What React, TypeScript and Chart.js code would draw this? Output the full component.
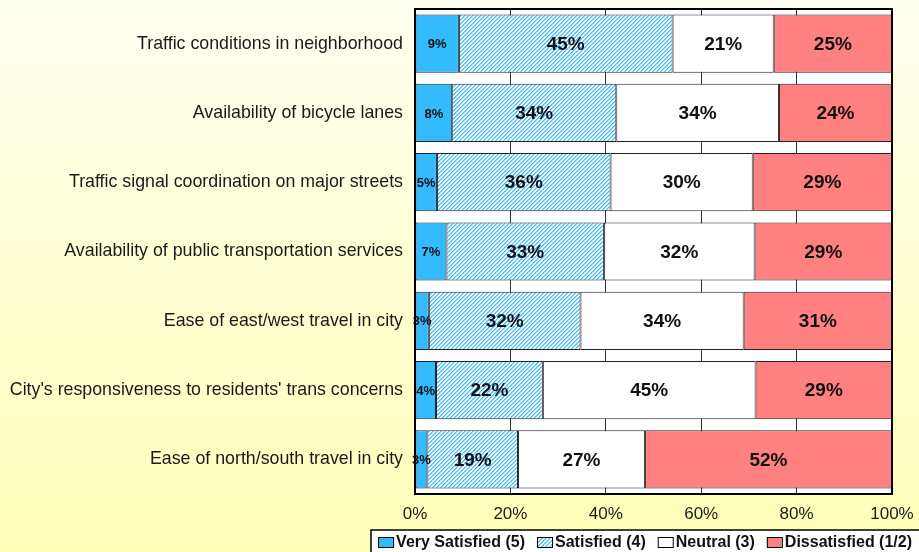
import React, { useEffect, useRef } from 'react';
import { Chart, registerables } from 'chart.js';

Chart.register(...registerables);

const categories = [
  'Traffic conditions in neighborhood',
  'Availability of bicycle lanes',
  'Traffic signal coordination on major streets',
  'Availability of public transportation services',
  'Ease of east/west travel in city',
  "City's responsiveness to residents' trans concerns",
  'Ease of north/south travel in city',
];

const seriesNames = ['Very Satisfied (5)', 'Satisfied (4)', 'Neutral (3)', 'Dissatisfied (1/2)'];

const verySatisfied = [9.2, 7.8, 4.6, 6.6, 2.9, 4.4, 2.6];
const satisfied = [44.8, 34.4, 36.4, 33.0, 31.8, 22.4, 19.0];
const neutral = [21.2, 34.1, 29.8, 31.6, 34.2, 44.6, 26.6];
const dissatisfied = [24.8, 23.7, 29.2, 28.8, 31.1, 28.6, 51.8];

const xTickValues = [0, 20, 40, 60, 80, 100];

const FONT = "'Liberation Sans', Arial, Helvetica, sans-serif";

function makeHatch(): CanvasPattern | string {
  const c = document.createElement('canvas');
  c.width = 4;
  c.height = 4;
  const g = c.getContext('2d');
  if (!g) return '#99DDFF';
  g.fillStyle = '#FFFFFF';
  g.fillRect(0, 0, 4, 4);
  for (let i = 0; i < 4; i++) {
    g.fillStyle = '#40BFFF';
    g.fillRect(i, 3 - i, 1, 1);
    g.fillStyle = '#7FD3FF';
    g.fillRect((i + 1) % 4, 3 - i, 1, 1);
  }
  const p = g.createPattern(c, 'repeat');
  return p || '#99DDFF';
}

export default function App() {
  const ref = useRef<HTMLCanvasElement | null>(null);

  useEffect(() => {
    const canvas = ref.current;
    if (!canvas) return;
    const hatch = makeHatch();
    const fills = ['#33BBFF', hatch, '#FFFFFF', '#FF8080'];
    const values = [verySatisfied, satisfied, neutral, dissatisfied];

    const bgPlugin = {
      id: 'bgPlugin',
      beforeDraw(chart: any) {
        const { ctx, width, height, chartArea } = chart;
        ctx.save();
        const grad = ctx.createLinearGradient(0, 0, 0, height);
        grad.addColorStop(0, '#FFFFF0');
        grad.addColorStop(1, '#FFFFB8');
        ctx.fillStyle = grad;
        ctx.fillRect(0, 0, width, height);
        ctx.fillStyle = '#FFFFFF';
        ctx.fillRect(chartArea.left, chartArea.top, chartArea.right - chartArea.left, chartArea.bottom - chartArea.top);
        ctx.restore();
      },
    };

    const overlayPlugin = {
      id: 'overlayPlugin',
      afterDraw(chart: any) {
        const { ctx, chartArea, width } = chart;
        ctx.save();
        // plot border
        ctx.strokeStyle = '#000000';
        ctx.lineWidth = 2;
        ctx.strokeRect(chartArea.left, chartArea.top, chartArea.right - chartArea.left, chartArea.bottom - chartArea.top);

        // data labels
        ctx.fillStyle = '#111111';
        ctx.textAlign = 'center';
        ctx.textBaseline = 'middle';
        chart.data.datasets.forEach((ds: any, di: number) => {
          const meta = chart.getDatasetMeta(di);
          ctx.font = di === 0 ? `bold 13px ${FONT}` : `bold 19px ${FONT}`;
          meta.data.forEach((bar: any, i: number) => {
            const v = ds.data[i];
            const props = bar.getProps(['x', 'y', 'base'], true);
            const cx = (props.x + props.base) / 2;
            ctx.fillText(`${Math.round(v)}%`, cx, props.y + 1);
          });
        });

        // legend
        ctx.font = `bold 16px ${FONT}`;
        const boxW = 15;
        const boxH = 10;
        const gap = 3;
        const spacing = 12;
        const widths = seriesNames.map((s) => ctx.measureText(s).width);
        const total = widths.reduce((a, b) => a + b, 0) + seriesNames.length * (boxW + gap) + (seriesNames.length - 1) * spacing;
        const frameLeft = 371;
        const frameTop = 530;
        ctx.fillStyle = '#FFFFFF';
        ctx.fillRect(frameLeft, frameTop, width - frameLeft + 5, 30);
        ctx.strokeStyle = '#000000';
        ctx.lineWidth = 1.5;
        ctx.strokeRect(frameLeft, frameTop, width - frameLeft + 5, 30);
        let x = width - 7 - total;
        const cy = 542;
        ctx.textAlign = 'left';
        ctx.textBaseline = 'middle';
        seriesNames.forEach((s, i) => {
          ctx.fillStyle = fills[i] as any;
          ctx.fillRect(x, cy - boxH / 2, boxW, boxH);
          ctx.strokeStyle = '#000000';
          ctx.lineWidth = 1;
          ctx.strokeRect(x + 0.5, cy - boxH / 2 + 0.5, boxW, boxH);
          ctx.fillStyle = '#111111';
          ctx.fillText(s, x + boxW + gap, cy + 1);
          x += boxW + gap + widths[i] + spacing;
        });
        ctx.restore();
      },
    };

    const chart = new Chart(canvas, {
      type: 'bar',
      data: {
        labels: categories,
        datasets: seriesNames.map((name, i) => ({
          label: name,
          data: values[i],
          backgroundColor: fills[i] as any,
          borderColor: '#222222',
          borderWidth: 1,
          borderSkipped: false,
          categoryPercentage: 1,
          barPercentage: 0.84,
        })),
      },
      options: {
        indexAxis: 'y',
        responsive: false,
        animation: false,
        layout: { padding: { top: 9, right: 27, bottom: 0, left: 0 } },
        plugins: {
          legend: { display: false },
          tooltip: { enabled: false },
        },
        scales: {
          x: {
            stacked: true,
            min: 0,
            max: 100,
            afterBuildTicks(scale: any) {
              scale.ticks = xTickValues.map((v) => ({ value: v }));
            },
            afterFit(scale: any) {
              scale.height = 58;
              scale.paddingLeft = 0;
              scale.paddingRight = 0;
              scale.paddingTop = 0;
              scale.paddingBottom = 0;
            },
            ticks: {
              callback: (v: any) => `${v}%`,
              font: { family: FONT, size: 17 },
              color: '#1a1a1a',
              padding: 10,
              maxRotation: 0,
            },
            grid: { color: '#333333', lineWidth: 1, drawTicks: false },
            border: { display: false },
          },
          y: {
            stacked: true,
            afterFit(scale: any) {
              scale.width = 415;
              scale.paddingLeft = 0;
              scale.paddingRight = 0;
              scale.paddingTop = 0;
              scale.paddingBottom = 0;
            },
            ticks: {
              font: { family: FONT, size: 17.8 },
              color: '#1a1a1a',
              padding: 12,
            },
            grid: { display: false, drawTicks: false },
            border: { display: false },
          },
        },
      },
      plugins: [bgPlugin, overlayPlugin],
    } as any);

    return () => chart.destroy();
  }, []);

  return (
    <div style={{ position: 'absolute', left: 0, top: 0, width: 919, height: 552 }}>
      <canvas ref={ref} width={919} height={552} style={{ display: 'block' }} />
    </div>
  );
}
